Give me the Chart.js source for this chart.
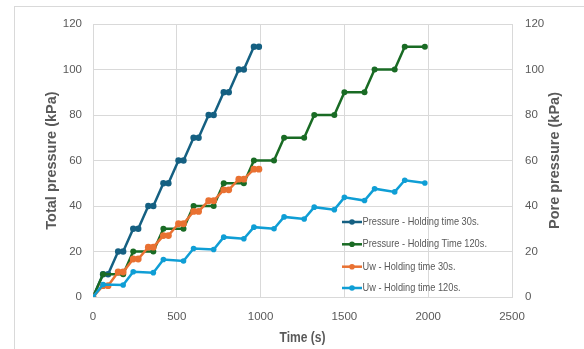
<!DOCTYPE html>
<html>
<head>
<meta charset="utf-8">
<script src="https://cdn.jsdelivr.net/npm/chart.js@4.4.1/dist/chart.umd.min.js"></script>
<style>
  html, body { margin: 0; padding: 0; background: #ffffff; }
  #wrap { width: 584px; height: 349px; position: relative; }
</style>
</head>
<body>
<div id="wrap"><canvas id="chart" width="584" height="349"></canvas></div>
<script>
// Loading schedule (s): 60 s ramp, then hold
const timeHold30 = [0, 60, 90, 150, 180, 240, 270, 330, 360, 420, 450, 510, 540, 600, 630, 690, 720, 780, 810, 870, 900, 960, 990];
const timeHold120 = [0, 60, 180, 240, 360, 420, 540, 600, 720, 780, 900, 960, 1080, 1140, 1260, 1320, 1440, 1500, 1620, 1680, 1800, 1860, 1980];

// Total pressure (kPa)
const pressureHold30 = [0, 10, 10, 20, 20, 30, 30, 40, 40, 50, 50, 60, 60, 70, 70, 80, 80, 90, 90, 100, 100, 110, 110];
const pressureHold120 = [0, 10, 10, 20, 20, 30, 30, 40, 40, 50, 50, 60, 60, 70, 70, 80, 80, 90, 90, 100, 100, 110, 110];

// Pore water pressure Uw (kPa)
const uwHold30 = [0, 5, 5, 11, 11, 16.7, 16.7, 21.9, 21.9, 27, 27, 32.2, 32.2, 37.6, 37.6, 42.3, 42.3, 47.1, 47.1, 51.8, 51.8, 56.2, 56.2];
const uwHold120 = [0, 5.5, 5.3, 11.1, 10.7, 16.5, 15.8, 21.3, 20.9, 26.3, 25.6, 30.7, 30.0, 35.2, 34.3, 39.5, 38.4, 43.8, 42.4, 47.6, 46.2, 51.3, 50.1];

const seriesLabels = [
  'Pressure - Holding time 30s.',
  'Pressure - Holding Time 120s.',
  'Uw - Holding time 30s.',
  'Uw - Holding time 120s.'
];
const seriesColors = ['#156082', '#196B24', '#E97132', '#0F9ED5'];

const xTitle = 'Time (s)';
const yLeftTitle = 'Total pressure (kPa)';
const yRightTitle = 'Pore pressure (kPa)';

const FONT = '"Liberation Sans", Arial, sans-serif';
const TEXT = '#595959';
const GRID = '#d9d9d9';

const toPoints = (xs, ys) => xs.map((x, i) => ({ x: x, y: ys[i] }));
const plainNumber = (v) => String(v);

function series(i, xs, ys, axis, order, radius) {
  return {
    label: seriesLabels[i],
    data: toPoints(xs, ys),
    borderColor: seriesColors[i],
    backgroundColor: seriesColors[i],
    borderWidth: 2.5,
    pointRadius: radius,
    pointBorderWidth: 0,
    pointHoverRadius: radius,
    yAxisID: axis,
    order: order,
    tension: 0
  };
}

// Condensed text: draw with a horizontal squeeze
function narrowText(ctx, text, x, y, font, squeeze, align, rotate) {
  ctx.save();
  ctx.translate(x, y);
  if (rotate) ctx.rotate(rotate);
  ctx.scale(squeeze, 1);
  ctx.font = font;
  ctx.fillStyle = TEXT;
  ctx.textAlign = align;
  ctx.textBaseline = 'middle';
  ctx.fillText(text, 0, 0);
  ctx.restore();
}

// Outer frame, axis titles and the inset legend
const decorations = {
  id: 'decorations',
  beforeDraw(chart) {
    const ctx = chart.ctx;
    ctx.save();
    ctx.fillStyle = '#ffffff';
    ctx.fillRect(0, 0, chart.width, chart.height);
    ctx.strokeStyle = GRID;
    ctx.lineWidth = 1;
    ctx.strokeRect(14.5, 6.5, chart.width + 20, chart.height + 20);
    ctx.restore();
  },
  afterDraw(chart) {
    const ctx = chart.ctx;
    const area = chart.chartArea;

    // bottom axis title
    narrowText(ctx, xTitle, (area.left + area.right) / 2, 338, 'bold 14px ' + FONT, 0.86, 'center', 0);
    // right axis title, reading bottom to top
    narrowText(ctx, yRightTitle, 555, (area.top + area.bottom) / 2, 'bold 14.5px ' + FONT, 1, 'center', -Math.PI / 2);

    // legend
    const rows = [222, 244.3, 266.7, 288];
    ctx.save();
    chart.data.datasets.forEach((ds, i) => {
      const y = rows[i];
      ctx.strokeStyle = ds.borderColor;
      ctx.lineWidth = 2.5;
      ctx.beginPath();
      ctx.moveTo(342, y);
      ctx.lineTo(362, y);
      ctx.stroke();
      ctx.fillStyle = ds.backgroundColor;
      ctx.beginPath();
      ctx.arc(352, y, 2.8, 0, Math.PI * 2);
      ctx.fill();
      narrowText(ctx, ds.label, 362.5, y, '11px ' + FONT, 0.84, 'left', 0);
    });
    ctx.restore();
  }
};

new Chart(document.getElementById('chart'), {
  type: 'line',
  data: {
    datasets: [
      series(0, timeHold30, pressureHold30, 'y', 4, 3.2),
      series(1, timeHold120, pressureHold120, 'y', 3, 3),
      series(2, timeHold30, uwHold30, 'y2', 2, 3.4),
      series(3, timeHold120, uwHold120, 'y2', 1, 2.8)
    ]
  },
  options: {
    responsive: false,
    animation: false,
    events: [],
    layout: { padding: { top: 24, left: 0, right: 0, bottom: 0 } },
    plugins: {
      legend: { display: false },
      tooltip: { enabled: false }
    },
    scales: {
      x: {
        type: 'linear',
        min: 0,
        max: 2500,
        ticks: {
          stepSize: 500,
          color: TEXT,
          padding: 13,
          callback: plainNumber,
          font: { family: FONT, size: 11.5, lineHeight: 1.2 }
        },
        grid: { color: GRID, lineWidth: 1, drawTicks: false },
        border: { color: GRID, width: 1 },
        title: { display: false },
        afterFit(scale) { scale.height = 52; }
      },
      y: {
        type: 'linear',
        position: 'left',
        min: 0,
        max: 120,
        ticks: {
          stepSize: 20,
          color: TEXT,
          padding: 11,
          callback: plainNumber,
          font: { family: FONT, size: 11.5, lineHeight: 1.2 }
        },
        grid: { color: GRID, lineWidth: 1, drawTicks: false },
        border: { color: GRID, width: 1 },
        title: {
          display: true,
          text: yLeftTitle,
          color: TEXT,
          font: { family: FONT, size: 14.5, weight: 'bold', lineHeight: 1.2 },
          padding: { top: 43, bottom: 0 }
        },
        afterFit(scale) { scale.width = 93; }
      },
      y2: {
        type: 'linear',
        position: 'right',
        min: 0,
        max: 120,
        ticks: {
          stepSize: 20,
          color: TEXT,
          padding: 13,
          callback: plainNumber,
          font: { family: FONT, size: 11.5, lineHeight: 1.2 }
        },
        grid: { display: false, drawTicks: false },
        border: { display: false },
        afterFit(scale) { scale.width = 72; }
      }
    }
  },
  plugins: [decorations]
});
</script>
</body>
</html>
